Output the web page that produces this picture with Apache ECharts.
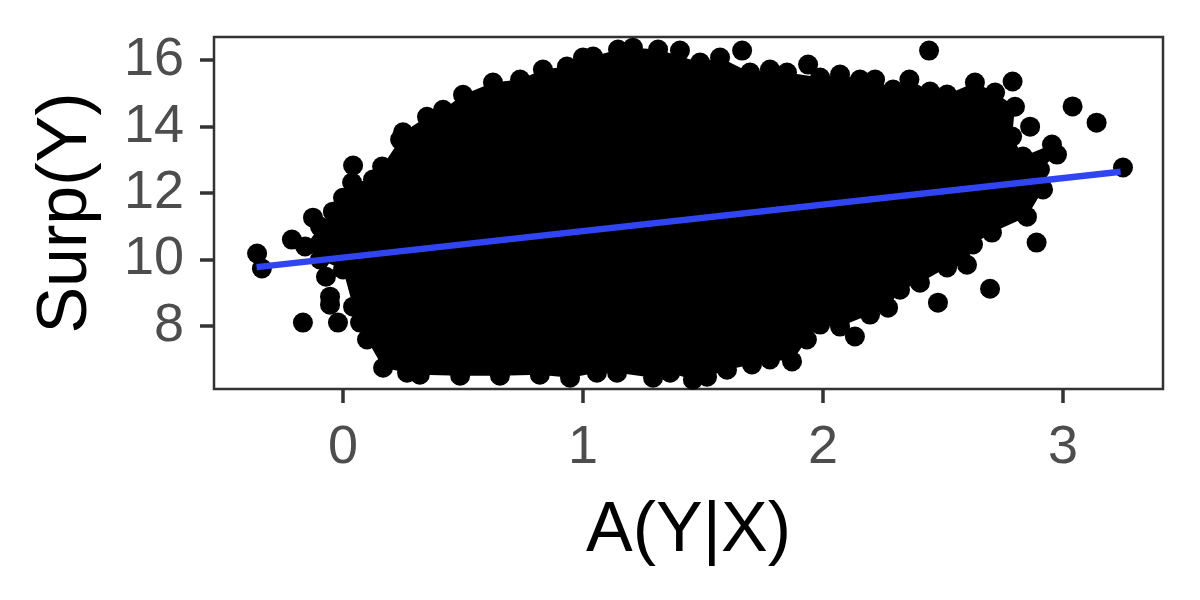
<!DOCTYPE html>
<html>
<head>
<meta charset="utf-8">
<script src="https://cdn.jsdelivr.net/npm/echarts@6/dist/echarts.min.js"></script>
<style>html,body{margin:0;padding:0;background:#fff}#c{width:1200px;height:600px}</style>
</head>
<body>
<div id="c"></div>
<script>
// Outline of the dense point cloud (centres of the edge points), clockwise
const cloudX = [-0.158,-0.096,-0.042,0.008,0.038,0.125,0.163,0.238,0.25,0.35,0.417,0.5,0.625,0.738,0.833,0.933,1.0,1.042,1.146,1.208,1.313,1.488,1.571,1.696,1.779,1.85,1.988,2.071,2.154,2.217,2.292,2.36,2.446,2.517,2.633,2.717,2.8,2.788,2.833,2.954,2.975,2.904,2.917,2.85,2.704,2.625,2.6,2.517,2.404,2.321,2.271,2.196,2.071,1.988,1.933,1.871,1.779,1.704,1.6,1.517,1.458,1.363,1.292,1.142,1.058,0.946,0.82,0.654,0.488,0.32,0.267,0.167,0.1,0.071,0.042,0.0,-0.096];
const cloudY = [10.39,10.99,11.44,11.86,12.32,12.41,12.80,13.61,13.83,14.30,14.51,14.96,15.33,15.42,15.72,15.81,16.08,16.11,16.32,16.38,16.32,15.93,16.08,15.63,15.72,15.63,15.48,15.57,15.42,15.42,15.12,15.42,15.06,14.97,15.33,15.03,14.60,13.70,13.10,13.46,13.16,12.71,12.11,11.29,10.81,10.45,9.84,9.76,9.30,9.09,8.55,8.34,7.98,8.04,7.59,6.93,6.99,6.84,6.68,6.47,6.38,6.59,6.44,6.59,6.59,6.44,6.53,6.50,6.50,6.53,6.59,6.74,7.59,8.10,8.58,9.70,10.0];
// Isolated points outside the dense cloud
const outX = [-0.358,-0.338,-0.213,-0.125,-0.167,-0.071,-0.054,-0.054,-0.021,0.042,0.0,1.404,1.663,1.938,2.442,2.79,2.863,3.04,3.14,3.25,2.89,2.696,2.479,2.133];
const outY = [10.18,9.73,10.60,11.26,8.10,9.48,8.88,8.64,8.10,12.83,11.86,16.29,16.29,15.87,16.29,15.36,14.0,14.61,14.12,12.77,10.51,9.12,8.70,7.68];
// Linear fit line
const fitX = [-0.36, 3.24];
const fitY = [9.77, 12.64];
const xTicks = [0, 1, 2, 3];
const yTicks = [8, 10, 12, 14, 16];

const cloudPts = cloudX.map((x, i) => [x, cloudY[i]]);
const outPts = outX.map((x, i) => [x, outY[i]]);
const fitPts = fitX.map((x, i) => [x, fitY[i]]);

const chart = echarts.init(document.getElementById('c'), null, {renderer: 'canvas'});
const font = "'Liberation Sans', Arial, Helvetica, sans-serif";
chart.setOption({
  animation: false,
  backgroundColor: '#ffffff',
  grid: {left: 214, right: 37, top: 37, bottom: 211, show: true, borderColor: '#333333', borderWidth: 2.5, backgroundColor: 'transparent'},
  xAxis: {
    type: 'value', min: -0.5375, max: 3.4167,
    name: 'A(Y|X)', nameLocation: 'middle', nameGap: 108,
    nameTextStyle: {fontSize: 70, color: '#000', fontFamily: font},
    axisLine: {show: false, onZero: false},
    axisTick: {show: true, length: 14, customValues: xTicks, lineStyle: {color: '#333333', width: 3.5}},
    axisLabel: {customValues: xTicks, fontSize: 54, color: '#4d4d4d', fontFamily: font, margin: 32},
    splitLine: {show: false}
  },
  yAxis: {
    type: 'value', min: 6.1, max: 16.7,
    name: 'Surp(Y)', nameLocation: 'middle', nameGap: 112, nameRotate: 90,
    nameTextStyle: {fontSize: 70, color: '#000', fontFamily: font},
    axisLine: {show: false, onZero: false},
    axisTick: {show: true, length: 14, customValues: yTicks, lineStyle: {color: '#333333', width: 3.5}},
    axisLabel: {customValues: yTicks, fontSize: 54, color: '#4d4d4d', fontFamily: font, margin: 30},
    splitLine: {show: false}
  },
  series: [
    {
      type: 'custom',
      data: cloudPts,
      clip: true,
      renderItem: function (params, api) {
        if (params.dataIndex !== 0) return null;
        const pts = cloudPts.map(p => api.coord(p));
        return {type: 'polygon', shape: {points: pts}, style: {fill: '#000000'}};
      },
      z: 1
    },
    {
      type: 'scatter', data: cloudPts.concat(outPts), symbolSize: 20,
      itemStyle: {color: '#000000', opacity: 1}, z: 2
    },
    {
      type: 'line', data: fitPts, showSymbol: false, symbol: 'none',
      lineStyle: {color: '#3044F2', width: 6.5}, z: 3
    }
  ]
});
</script>
</body>
</html>
